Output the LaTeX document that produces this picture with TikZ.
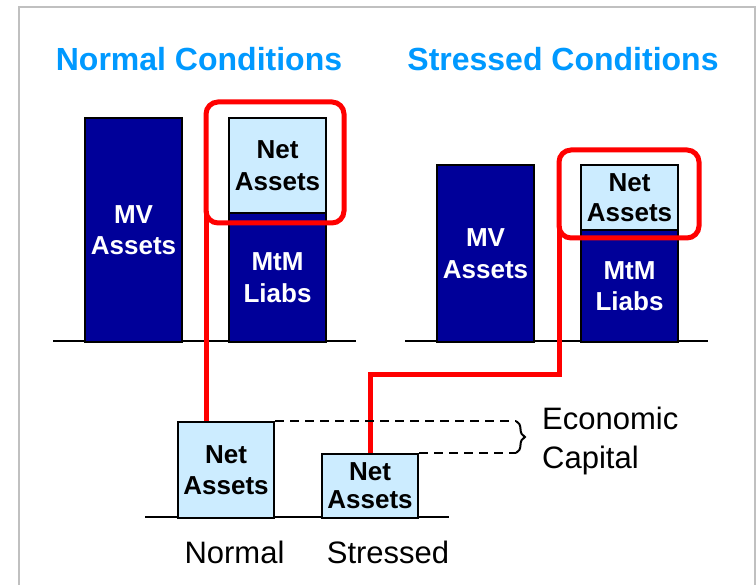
\documentclass[tikz,border=0pt]{standalone}
\usepackage{fontspec}
\setmainfont{Liberation Sans}
\usetikzlibrary{decorations.pathreplacing}
\definecolor{navy}{RGB}{0,0,153}
\definecolor{lightb}{RGB}{204,236,255}
\definecolor{titleblue}{RGB}{0,153,255}
\definecolor{framegray}{RGB}{192,192,192}
\begin{document}
\begin{tikzpicture}[x=1pt,y=-1pt,
  barbox/.style={draw=black, line width=2pt, fill=navy, text=white,
    font=\bfseries\fontsize{26}{31.5}\selectfont, align=center, inner sep=0pt, anchor=north west},
  netbox/.style={draw=black, line width=2pt, fill=lightb, text=black,
    font=\bfseries\fontsize{26}{31.5}\selectfont, align=center, inner sep=0pt, anchor=north west},
  redframe/.style={draw=red, line width=5pt, rounded corners=12pt, inner sep=0pt, outer sep=0pt},
  redline/.style={draw=red, line width=5pt},
  baseln/.style={draw=black, line width=2pt},
  dashln/.style={draw=black, line width=2pt, dash pattern=on 9pt off 6pt},
  headtxt/.style={text=titleblue, font=\bfseries\fontsize{32}{38}\selectfont, anchor=base, inner sep=0pt},
  plaintxt/.style={font=\fontsize{31}{39}\selectfont, inner sep=0pt}]
\useasboundingbox (0,0) rectangle (756,585);
\clip (0,0) rectangle (756,585);
\fill[white] (0,0) rectangle (756,585);
% outer frame
\draw[framegray, line width=2pt] (19,600) -- (19,7) -- (755,7) -- (755,600);

% titles
\node[headtxt] (tN) at (199,71) {Normal Conditions};
\node[headtxt] (tS) at (563,71) {Stressed Conditions};

% ground lines
\draw[baseln] (53,341) -- (356,341);
\draw[baseln] (405,341) -- (708,341);
\draw[baseln] (145,517) -- (449,517);

% normal conditions
\node[barbox, minimum width=97pt, minimum height=224pt] (mvN) at (84,117) {MV\\Assets};
\node[netbox, minimum width=97pt, minimum height=95pt] (naN) at (228,117) {Net\\Assets};
\node[barbox, minimum width=97pt, minimum height=129pt] (mtN) at (228,212) {MtM\\Liabs};

% stressed conditions
\node[barbox, minimum width=97pt, minimum height=177pt] (mvS) at (436,164) {MV\\Assets};
\node[netbox, minimum width=97pt, minimum height=65pt, font=\bfseries\fontsize{26}{30}\selectfont] (naS) at (580,164) {Net\\Assets};
\node[barbox, minimum width=97pt, minimum height=112pt] (mtS) at (580,229) {MtM\\Liabs};

% bottom net assets
\node[netbox, minimum width=96pt, minimum height=96pt] (nbN) at (177,421) {Net\\Assets};
\node[netbox, minimum width=96pt, minimum height=64pt, font=\bfseries\fontsize{26}{28}\selectfont] (nbS) at (321,453) {Net\\Assets};

% red frames
\node[redframe, minimum width=138pt, minimum height=121pt] (rfN) at (275,162.5) {};
\node[redframe, minimum width=140pt, minimum height=88pt] (rfS) at (629,194) {};

% red connectors
\coordinate (bendS) at (0,375);
\draw[redline] ([yshift=12pt]rfN.south west) -- (rfN.south west |- nbN.north);
\draw[redline] ([yshift=12pt]rfS.south west) |- (nbS.north |- bendS) -- (nbS.north);

% economic capital
\coordinate (braceX) at (516,0);
\draw[dashln] (nbN.north east) -- (nbN.north east -| braceX);
\draw[dashln] (nbS.north east) -- (nbS.north east -| braceX);
\draw[line width=2pt, decorate, decoration={brace, amplitude=9pt}]
  (nbN.north east -| braceX) -- (nbS.north east -| braceX);
\node[plaintxt, anchor=west, align=left] (ec) at (542,441) {Economic\\Capital};

% bottom labels
\node[plaintxt, anchor=base] (lN) at (234.5,564) {Normal};
\node[plaintxt, anchor=base] (lS) at (388,564) {Stressed};
\end{tikzpicture}
\end{document}
